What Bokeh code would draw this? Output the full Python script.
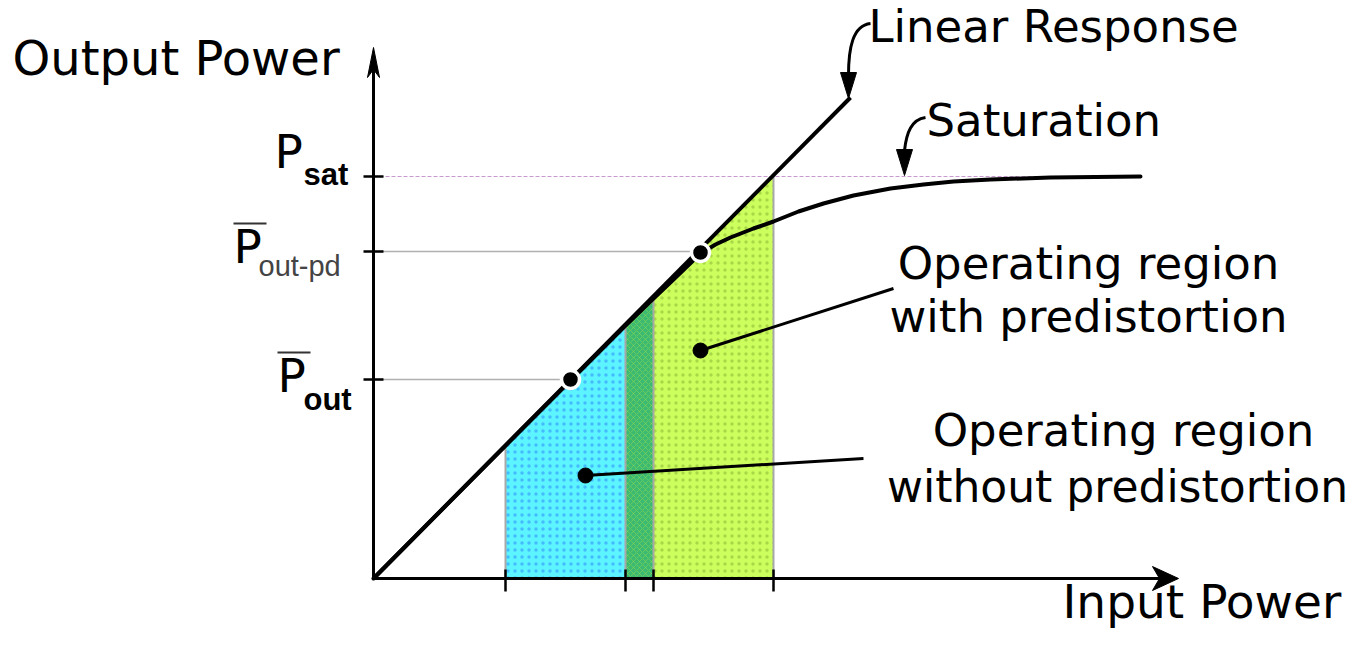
from bokeh.plotting import figure
from bokeh.models import Range1d
from bokeh.core.properties import value
from bokeh.embed import file_html
from bokeh.resources import INLINE

# ---------------- data (arbitrary power units) ----------------
linear_x = [0, 477]
linear_y = [0, 481]
gain = linear_y[1] / linear_x[1]

sat_x = [0, 150, 252, 280, 300, 327, 342, 357, 380, 400, 425, 450, 480, 517, 550, 580, 617, 677, 767]
sat_y = [0, 151, 253, 280, 299, 325, 334, 341, 350, 357, 367, 375, 383, 390, 394, 397, 399, 401, 402]

psat = 402
pout_pd = 327
pout = 199
sat_line_end = 767

x_ticks = [132, 252, 280, 400]
y_ticks = [pout, pout_pd, psat]

region_without = [132, 252]          # cyan
region_overlap = [252, 280]          # dark green
region_with = [280, 400]             # yellow-green

op_x = [197, 327]                    # operating points (dots with white ring)
op_y = [pout, pout_pd - 1]

x_axis_end = 805
y_axis_end = 531

# ---------------- figure ----------------
p = figure(width=1354, height=631, output_backend="svg", toolbar_location=None,
           x_range=Range1d(-373, 981), y_range=Range1d(-53, 578),
           x_axis_type=None, y_axis_type=None, min_border=0)
p.outline_line_color = None
p.xgrid.visible = False
p.ygrid.visible = False
p.background_fill_color = "white"

FONT = value("DejaVu Sans")
SUBFONT = value("Liberation Sans")

# regions
def top(xs):
    return [gain * x for x in xs]

p.varea(x=region_without, y1=[0, 0], y2=top(region_without), fill_color="#5cf4ff",
        hatch_pattern=".", hatch_color="#2f8cff", hatch_alpha=0.55, hatch_scale=7, hatch_weight=1.2)
p.varea(x=region_overlap, y1=[0, 0], y2=top(region_overlap), fill_color="#3cba72",
        hatch_pattern="x", hatch_color="#b8e840", hatch_alpha=0.35, hatch_scale=6, hatch_weight=1)
p.varea(x=region_with, y1=[0, 0], y2=top(region_with), fill_color="#ccff5e",
        hatch_pattern=".", hatch_color="#88b030", hatch_alpha=0.5, hatch_scale=7, hatch_weight=1.2)

# region boundaries
bx = x_ticks
p.segment(x0=bx, y0=[0] * len(bx), x1=bx, y1=top(bx), line_color="#a8a8a8", line_width=2)

# reference lines
p.segment(x0=[0], y0=[psat], x1=[sat_line_end], y1=[psat], line_color="#c89ad0", line_width=1.2, line_dash="4 2")
p.segment(x0=[0, 0], y0=[pout_pd, pout], x1=[op_x[1], op_x[0]], y1=[pout_pd, pout],
          line_color="#b0b0b0", line_width=1.3)

# response curves
p.line(linear_x, linear_y, line_color="black", line_width=4)
p.line(sat_x, sat_y, line_color="black", line_width=4, line_join="round", line_cap="round")

# axes
p.segment(x0=[0, 0], y0=[0, 0], x1=[x_axis_end - 18, 0], y1=[0, y_axis_end - 20],
          line_color="black", line_width=3)
p.patch([x_axis_end, x_axis_end - 26, x_axis_end - 19, x_axis_end - 26],
        [0, 12, 0, -12], fill_color="black", line_color="black", line_width=1)
p.patch([0, -6, 0, 6], [y_axis_end, y_axis_end - 30, y_axis_end - 22, y_axis_end - 30],
        fill_color="black", line_color="black", line_width=1)

# ticks
p.segment(x0=x_ticks, y0=[-13] * 4, x1=x_ticks, y1=[9] * 4, line_color="black", line_width=2.5)
p.segment(x0=[-10] * 3, y0=y_ticks, x1=[10] * 3, y1=y_ticks, line_color="black", line_width=2.5)

# operating points
p.scatter(op_x, op_y, size=18, fill_color="black", line_color="white", line_width=3.5)

# leader lines to region labels
lead_x0 = [327, 212]
lead_y0 = [228, 103]
lead_x1 = [520, 490]
lead_y1 = [290, 120]
p.segment(x0=lead_x0, y0=lead_y0, x1=lead_x1, y1=lead_y1, line_color="black", line_width=3)
p.scatter(lead_x0, lead_y0, size=15, fill_color="black", line_color="black")

# curved callout arrows
p.bezier(x0=[497, 552], y0=[555, 461], x1=[475, 531], y1=[503, 428],
         cx0=[479, 538], cy0=[553, 459], cx1=[475, 533], cy1=[530, 446],
         line_color="black", line_width=3)
for tx, ty in [(475, 480), (531, 403)]:
    p.patch([tx - 8, tx, tx + 8], [ty + 26, ty, ty + 26], fill_color="black", line_color="black")

# ---------------- texts ----------------
def lift(ys, size):
    # compensate for the renderer's baseline placement
    return [y + 0.37 * size for y in ys]

p.text(x=[-361], y=lift([503], 48), text=["Output Power"], text_font=FONT, text_font_size=value("48px"),
       text_align="left", text_baseline="alphabetic", text_color="black")
p.text(x=[689], y=lift([-40], 47), text=["Input Power"], text_font=FONT, text_font_size=value("47px"),
       text_align="left", text_baseline="alphabetic", text_color="black")
p.text(x=[495, 553], y=lift([535, 441], 45), text=["Linear Response", "Saturation"], text_font=FONT,
       text_font_size=value("45px"), text_align="left", text_baseline="alphabetic", text_color="black")

region_text = ["Operating region", "with predistortion", "Operating region"]
region_tx = [715, 715, 750]
region_ty = [298, 245, 131]
p.text(x=region_tx, y=lift(region_ty, 45), text=region_text, text_font=FONT, text_font_size=value("45px"),
       text_align="center", text_baseline="alphabetic", text_color="black")
p.text(x=[744], y=lift([76], 44), text=["without predistortion"], text_font=FONT,
       text_font_size=value("44px"), text_align="center", text_baseline="alphabetic", text_color="black")

# y tick labels: P with subscripts and overbars
p_x = [-99, -140, -96]
p_y = [410, 315, 186]
p.text(x=p_x, y=lift(p_y, 47), text=["P", "P", "P"], text_font=FONT, text_font_size=value("47px"),
       text_align="left", text_baseline="alphabetic", text_color="black")
p.text(x=[-70, -70], y=lift([393, 168], 31), text=["sat", "out"], text_font=SUBFONT,
       text_font_size=value("31px"), text_align="left", text_baseline="alphabetic",
       text_color="black", text_font_style="bold")
p.text(x=[-115], y=lift([302], 29), text=["out-pd"], text_font=SUBFONT, text_font_size=value("29px"),
       text_align="left", text_baseline="alphabetic", text_color="#444444")
# overbars
p.segment(x0=[-140, -96], y0=[355, 226], x1=[-107, -63], y1=[355, 226], line_color="#333333", line_width=2)

open("out.html", "w").write(file_html(p, INLINE))
